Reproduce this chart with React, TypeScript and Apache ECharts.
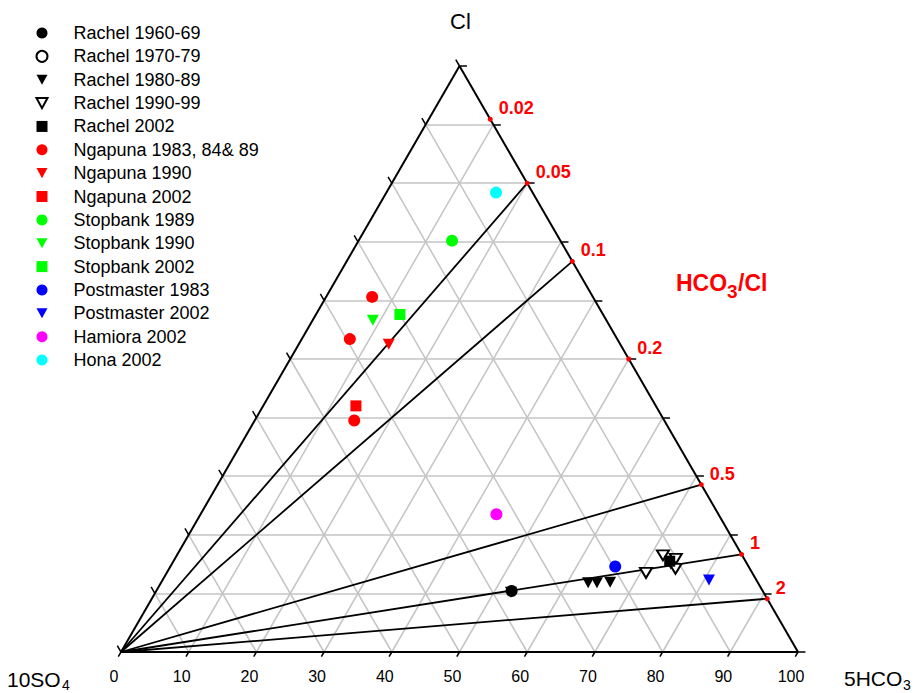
import React, { useEffect, useRef } from "react";
import * as echarts from "echarts";

// Ternary compositions in percent: [Cl, 5HCO3]; 10SO4 = 100 - Cl - 5HCO3
const rachel6069 = [[10.4, 52.5]];
const rachel7079: number[][] = [];
const rachel8089 = [[10.2, 52.5], [11.8, 63.1], [11.8, 64.4], [11.9, 66.3], [15.0, 73.7]];
const rachel9099 = [[13.5, 70.8], [16.5, 71.8], [15.9, 74.0], [14.2, 74.8]];
const rachel2002 = [[15.5, 73.3]];
const ngapuna838489 = [[60.6, 6.8], [53.4, 7.1], [39.5, 14.7]];
const ngapuna1990 = [[52.5, 13.3]];
const ngapuna2002 = [[42.0, 13.7]];
const stopbank1989 = [[70.2, 13.8]];
const stopbank1990 = [[56.6, 8.9]];
const stopbank2002 = [[57.6, 12.4]];
const postmaster1983 = [[14.6, 65.7]];
const postmaster2002 = [[12.3, 80.7]];
const hamiora2002 = [[23.5, 43.7]];
const hona2002 = [[78.4, 16.2]];

// HCO3/Cl ratio reference points on the Cl–5HCO3 edge
const ratioValues = [0.02, 0.05, 0.1, 0.2, 0.5, 1, 2];
const ratioLabels = ["0.02", "0.05", "0.1", "0.2", "0.5", "1", "2"];
const ratioLinesDrawn = [0.05, 0.1, 0.5, 1, 2];

const gridSteps = [10, 20, 30, 40, 50, 60, 70, 80, 90];
const tickSteps = [0, 10, 20, 30, 40, 50, 60, 70, 80, 90, 100];

const FONT = "'Liberation Sans', Arial, sans-serif";
const SQ = Math.sqrt(3) / 2;
const pt = (cl: number, hc: number) => [hc + cl / 2, cl * SQ];
const toXY = (arr: number[][]) => arr.map(([cl, hc]) => pt(cl, hc));
const ratioCl = (r: number) => 100 / (1 + 5 * r);

const DOWN_TRI = "path://M0,0L12,0L6,11Z";

export default function App() {
  const ref = useRef<HTMLDivElement>(null);
  useEffect(() => {
    if (!ref.current) return;
    const chart = echarts.init(ref.current, null, { renderer: "svg" });

    const gridLines: any[] = [];
    gridSteps.forEach((k) => {
      gridLines.push({ coords: [pt(k, 0), pt(k, 100 - k)] });
      gridLines.push({ coords: [pt(0, k), pt(100 - k, k)] });
      gridLines.push({ coords: [pt(0, 100 - k), pt(100 - k, 0)] });
    });

    const ticks: any[] = [];
    const LB = 0.8;
    const L = 1.1;
    tickSteps.forEach((k) => {
      const b = pt(0, k);
      ticks.push({ coords: [b, [b[0] - 0.5 * LB, b[1] - SQ * LB]] });
      const l = pt(k, 0);
      ticks.push({ coords: [l, [l[0] - 0.5 * L, l[1] + SQ * L]] });
      const r = pt(k, 100 - k);
      ticks.push({ coords: [r, [r[0] + L, r[1]]] });
    });

    const edges = [
      { coords: [pt(0, 0), pt(100, 0)] },
      { coords: [pt(100, 0), pt(0, 100)] },
      { coords: [pt(0, 100), pt(0, 0)] },
    ];

    const ratioLines = ratioLinesDrawn.map((r) => {
      const c = ratioCl(r);
      return { coords: [pt(0, 0), pt(c, 100 - c)] };
    });

    const ratioDots = ratioValues.map((r, i) => {
      const c = ratioCl(r);
      return { name: ratioLabels[i], value: pt(c, 100 - c) };
    });

    const sample = (
      name: string,
      data: number[][],
      symbol: string,
      size: any,
      color: string,
      open = false
    ) => ({
      name,
      type: "scatter",
      data: toXY(data),
      symbol,
      symbolSize: size,
      symbolKeepAspect: false,
      z: 10,
      itemStyle: open
        ? { color: "#fff", borderColor: color, borderWidth: 2, opacity: 1 }
        : { color, opacity: 1 },
    });

    const samples = [
      sample("Rachel 1960-69", rachel6069, "circle", 12, "#000"),
      sample("Rachel 1970-79", rachel7079, "circle", 9, "#000", true),
      sample("Rachel 1980-89", rachel8089, DOWN_TRI, [12, 11], "#000"),
      sample("Rachel 1990-99", rachel9099, DOWN_TRI, [12, 10], "#000", true),
      sample("Rachel 2002", rachel2002, "rect", 11, "#000"),
      sample("Ngapuna 1983, 84& 89", ngapuna838489, "circle", 12, "#ff0000"),
      sample("Ngapuna 1990", ngapuna1990, DOWN_TRI, [12, 11], "#ff0000"),
      sample("Ngapuna 2002", ngapuna2002, "rect", 11, "#ff0000"),
      sample("Stopbank 1989", stopbank1989, "circle", 12, "#00ff00"),
      sample("Stopbank 1990", stopbank1990, DOWN_TRI, [12, 11], "#00ff00"),
      sample("Stopbank 2002", stopbank2002, "rect", 11, "#00ff00"),
      sample("Postmaster 1983", postmaster1983, "circle", 12, "#0000ff"),
      sample("Postmaster 2002", postmaster2002, DOWN_TRI, [12, 11], "#0000ff"),
      sample("Hamiora 2002", hamiora2002, "circle", 12, "#ff00ff"),
      sample("Hona 2002", hona2002, "circle", 12, "#00ffff"),
    ];

    const option: any = {
      animation: false,
      textStyle: { fontFamily: FONT },
      grid: { left: 121, top: 66, width: 677, height: 586, containLabel: false },
      xAxis: {
        type: "value",
        min: 0,
        max: 100,
        interval: 10,
        axisLine: { show: false },
        axisTick: { show: false },
        splitLine: { show: false },
        axisLabel: {
          color: "#000",
          fontSize: 16,
          fontFamily: FONT,
          margin: 16,
          padding: [0, 14, 0, 0],
        },
      },
      yAxis: { type: "value", min: 0, max: 100 * SQ, show: false },
      legend: {
        data: samples.map((s) => s.name),
        orient: "vertical",
        left: 35.5,
        top: 24,
        padding: 0,
        itemWidth: 11,
        itemHeight: 11,
        itemGap: 5.36,
        selectedMode: false,
        textStyle: {
          fontSize: 18,
          lineHeight: 18,
          color: "#000",
          fontFamily: FONT,
          padding: [0, 0, 0, 21],
        },
      },
      graphic: [
        { type: "text", x: 460.5, y: 21, style: { text: "Cl", fontSize: 22, fontFamily: FONT, fill: "#000", align: "center", verticalAlign: "middle" } },
        { type: "text", x: 7, y: 679, style: { text: "10SO", fontSize: 21, fontFamily: FONT, fill: "#000", align: "left", verticalAlign: "middle" } },
        { type: "text", x: 62, y: 685, style: { text: "4", fontSize: 14, fontFamily: FONT, fill: "#000", align: "left", verticalAlign: "middle" } },
        { type: "text", x: 844, y: 678, style: { text: "5HCO", fontSize: 21, fontFamily: FONT, fill: "#000", align: "left", verticalAlign: "middle" } },
        { type: "text", x: 903, y: 685, style: { text: "3", fontSize: 14, fontFamily: FONT, fill: "#000", align: "left", verticalAlign: "middle" } },
        { type: "text", x: 676, y: 283, style: { text: "HCO", fontSize: 23, fontWeight: "bold", fontFamily: FONT, fill: "#ff0000", align: "left", verticalAlign: "middle" } },
        { type: "text", x: 727, y: 291, style: { text: "3", fontSize: 19, fontWeight: "bold", fontFamily: FONT, fill: "#ff0000", align: "left", verticalAlign: "middle" } },
        { type: "text", x: 738, y: 283, style: { text: "/Cl", fontSize: 23, fontWeight: "bold", fontFamily: FONT, fill: "#ff0000", align: "left", verticalAlign: "middle" } },
      ],
      series: [
        {
          type: "lines",
          coordinateSystem: "cartesian2d",
          data: gridLines,
          silent: true,
          clip: false,
          z: 1,
          lineStyle: { color: "#c4c4c4", width: 1.5, opacity: 1 },
        },
        {
          type: "lines",
          coordinateSystem: "cartesian2d",
          data: ticks,
          silent: true,
          clip: false,
          z: 3,
          lineStyle: { color: "#000", width: 1.5, opacity: 1 },
        },
        {
          type: "lines",
          coordinateSystem: "cartesian2d",
          data: edges,
          silent: true,
          clip: false,
          z: 3,
          lineStyle: { color: "#000", width: 2, opacity: 1 },
        },
        {
          type: "lines",
          coordinateSystem: "cartesian2d",
          data: ratioLines,
          silent: true,
          clip: false,
          z: 3,
          lineStyle: { color: "#000", width: 1.8, opacity: 1 },
        },
        {
          type: "scatter",
          data: ratioDots,
          symbol: "circle",
          symbolSize: 5,
          z: 4,
          silent: true,
          itemStyle: { color: "#ff0000", opacity: 1 },
          label: {
            show: true,
            position: "right",
            distance: 5,
            offset: [1, -11],
            formatter: "{b}",
            color: "#ff0000",
            opacity: 1,
            textBorderWidth: 0,
            fontWeight: "bold",
            fontSize: 18,
            fontFamily: FONT,
          },
        },
        ...samples,
      ],
    };

    chart.setOption(option);
    return () => chart.dispose();
  }, []);

  return (
    <div
      ref={ref}
      style={{ position: "fixed", left: 0, top: 0, width: 919, height: 693, background: "#fff" }}
    />
  );
}
